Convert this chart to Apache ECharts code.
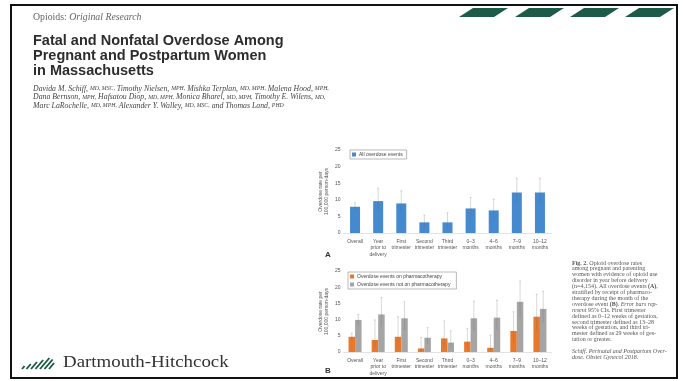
<!DOCTYPE html>
<html>
<head>
<meta charset="utf-8">
<script src="https://cdn.jsdelivr.net/npm/echarts@6/dist/echarts.min.js"></script>
<style>
  html, body { margin: 0; padding: 0; background: #fff; }
  #c { width: 683px; height: 381px; }
</style>
</head>
<body>
<div id="c"></div>
<script>
// Overdose rates per 100,000 person-days, by period
const categories = ['Overall', 'Year\nprior to\ndelivery', 'First\ntrimester', 'Second\ntrimester',
  'Third\ntrimester', '0–3\nmonths', '4–6\nmonths', '7–9\nmonths', '10–12\nmonths'];
const yTicks = [0, 5, 10, 15, 20, 25];

// Panel A: all overdose events (rate with 95% CI)
const allRate = [7.9, 9.6, 8.9, 3.2, 3.2, 7.4, 6.8, 12.2, 12.2];
const allLow  = [6.8, 6.6, 6.0, 1.7, 1.5, 4.9, 4.4, 8.9, 8.9];
const allHigh = [9.1, 13.5, 12.7, 5.4, 6.1, 10.7, 10.2, 16.5, 16.5];

// Panel B: on / not on pharmacotherapy (rate with 95% CI)
const onRate  = [4.7, 3.7, 4.7, 1.1, 4.2, 3.2, 1.3, 6.5, 10.9];
const onLow   = [3.8, 1.2, 1.8, 0.2, 1.6, 1.3, 0.3, 3.2, 6.4];
const onHigh  = [5.8, 9.9, 10.9, 4.5, 9.6, 7.3, 5.2, 12.4, 17.8];
const offRate = [9.9, 11.6, 10.4, 4.4, 2.9, 10.4, 10.6, 15.5, 13.3];
const offLow  = [8.3, 7.9, 6.8, 2.4, 1.2, 6.6, 6.8, 10.7, 9.1];
const offHigh = [11.6, 16.8, 15.5, 7.5, 6.5, 15.7, 16.0, 21.9, 18.8];

const BLUE = '#4589cf', ORANGE = '#e8782c', GRAY = '#a5a5a5', GREEN = '#1d5a48';
const SANS = 'Liberation Sans, Arial, sans-serif';
const SERIF = 'Liberation Serif, Times New Roman, serif';

function errorSeries(low, high, axis, offset) {
  return {
    type: 'custom', xAxisIndex: axis, yAxisIndex: axis, silent: true, z: 5,
    data: low.map((l, i) => [i, l, high[i]]),
    encode: { x: 0, y: [1, 2] },
    renderItem(params, api) {
      const lo = api.coord([api.value(0), api.value(1)]);
      const hi = api.coord([api.value(0), api.value(2)]);
      const x = lo[0] + offset;
      const st = { stroke: 'rgba(105,105,105,0.38)', lineWidth: 0.7 };
      return { type: 'group', children: [
        { type: 'line', shape: { x1: x, y1: lo[1], x2: x, y2: hi[1] }, style: st },
        { type: 'line', shape: { x1: x - 1, y1: hi[1], x2: x + 1, y2: hi[1] }, style: st }
      ] };
    }
  };
}

function xAxisFor(gridIndex) {
  return {
    type: 'category', gridIndex, data: categories,
    axisLine: { lineStyle: { color: '#cfcfcf', width: 0.6 } },
    axisTick: { show: false },
    axisLabel: { interval: 0, fontSize: 5, lineHeight: 6.6, color: '#555', margin: 5, fontFamily: SANS }
  };
}
function yAxisFor(gridIndex) {
  return {
    type: 'value', gridIndex, min: yTicks[0], max: yTicks[yTicks.length - 1], interval: yTicks[1] - yTicks[0],
    name: 'Overdose rate per\n100,000 person-days', nameLocation: 'middle', nameRotate: 90, nameGap: 14,
    nameTextStyle: { fontSize: 5, lineHeight: 5.6, color: '#555', fontFamily: SANS },
    axisLine: { show: false }, axisTick: { show: false }, splitLine: { show: false },
    axisLabel: { fontSize: 5, color: '#555', margin: 3, fontFamily: SANS }
  };
}

// Logo mark: parallel slanted strokes
function logoStripes() {
  const bottoms = [22, 26.5, 31, 35.5, 40, 44.5, 49];
  const heights = [3, 5, 7, 9, 11, 9.5, 6];
  return bottoms.map((x, i) => ({
    type: 'line',
    shape: { x1: x, y1: 369, x2: x + heights[i] * 0.85, y2: 369 - heights[i] },
    style: { stroke: GREEN, lineWidth: 1.9, lineCap: 'butt' }
  }));
}

function bannerBars() {
  const starts = [459, 515, 570, 625];
  return starts.map(x0 => ({
    type: 'polygon',
    shape: { points: [[x0, 17], [x0 + 14, 8], [x0 + 49, 8], [x0 + 35, 17]] },
    style: { fill: GREEN }
  }));
}

const authorRich = {
  n: { fontSize: 7.8, fontStyle: 'italic', fontFamily: SERIF, fill: '#444', lineHeight: 9, verticalAlign: 'bottom' },
  s: { fontSize: 5.8, fontStyle: 'italic', fontFamily: SERIF, fill: '#444', lineHeight: 9, verticalAlign: 'bottom', padding: [0, 0, 0.6, 0] }
};
const authorLines = [
  '{n|Davida M. Schiff,} {s|MD, MSC,} {n|Timothy Nielsen,} {s|MPH,} {n|Mishka Terplan,} {s|MD, MPH,} {n|Malena Hood,} {s|MPH,}',
  '{n|Dana Bernson,} {s|MPH,} {n|Hafsatou Diop,} {s|MD, MPH,} {n|Monica Bharel,} {s|MD, MPH,} {n|Timothy E. Wilens,} {s|MD,}',
  '{n|Marc LaRochelle,} {s|MD, MPH,} {n|Alexander Y. Walley,} {s|MD, MSC,} {n|and Thomas Land,} {s|PHD}'
];

const CAP = 6;
const captionLines = [
  '{b|Fig. 2.} Opioid overdose rates',
  'among pregnant and parenting',
  'women with evidence of opioid use',
  'disorder in year before delivery',
  '(n=4,154). All overdose events {b|(A)},',
  'stratified by receipt of pharmaco-',
  'therapy during the month of the',
  'overdose event {b|(B)}. {i|Error bars rep-}',
  '{i|resent} 95% CIs. First trimester',
  'defined as 0–12 weeks of gestation,',
  'second trimester defined as 13–28',
  'weeks of gestation, and third tri-',
  'mester defined as 29 weeks of ges-',
  'tation or greater.'
];
const captionRich = {
  b: { fontSize: CAP, fontWeight: 'bold', fontFamily: SERIF, fill: '#555' },
  i: { fontSize: CAP, fontStyle: 'italic', fontFamily: SERIF, fill: '#555' }
};

const graphics = [
  { type: 'rect', shape: { x: 11, y: 5, width: 666, height: 373 }, style: { fill: 'none', stroke: '#111', lineWidth: 2 } },
  ...bannerBars(),
  { type: 'text', x: 33, y: 17, style: {
      text: 'Opioids: {i|Original Research}', fontSize: 9.8, fontFamily: SERIF, fill: '#666', verticalAlign: 'middle',
      rich: { i: { fontSize: 9.8, fontStyle: 'italic', fontFamily: SERIF, fill: '#666' } } } },
  { type: 'text', x: 33, y: 33, style: {
      text: 'Fatal and Nonfatal Overdose Among\nPregnant and Postpartum Women\nin Massachusetts',
      fontSize: 14.5, lineHeight: 15, fontWeight: 'bold', fontFamily: SANS, fill: '#2d2d2d', verticalAlign: 'top' } },
  ...authorLines.map((t, i) => ({ type: 'text', x: 33, y: 88 + i * 8.5, style: {
      text: t, rich: authorRich, fontSize: 7.8, fontStyle: 'italic', fontFamily: SERIF, fill: '#444', verticalAlign: 'middle' } })),
  ...captionLines.map((t, i) => ({ type: 'text', x: 572, y: 263 + i * 5.9, style: {
      text: t, rich: captionRich, fontSize: CAP, fontFamily: SERIF, fill: '#555', verticalAlign: 'middle' } })),
  { type: 'text', x: 572, y: 351, style: { text: 'Schiff. Perinatal and Postpartum Over-', fontSize: CAP, fontStyle: 'italic', fontFamily: SERIF, fill: '#555', verticalAlign: 'middle' } },
  { type: 'text', x: 572, y: 357, style: { text: 'dose. Obstet Gynecol 2018.', fontSize: CAP, fontStyle: 'italic', fontFamily: SERIF, fill: '#555', verticalAlign: 'middle' } },
  { type: 'text', x: 325, y: 255, style: { text: 'A', fontSize: 8, fontWeight: 'bold', fontFamily: SANS, fill: '#333', verticalAlign: 'middle' } },
  { type: 'text', x: 325, y: 371, style: { text: 'B', fontSize: 8, fontWeight: 'bold', fontFamily: SANS, fill: '#333', verticalAlign: 'middle' } },
  ...logoStripes(),
  { type: 'text', x: 63, y: 363, scaleX: 1.18, originX: 0, originY: 0,
    style: { text: 'Dartmouth-Hitchcock', fontSize: 16, fontFamily: SERIF, fill: '#333', verticalAlign: 'middle' } }
];

const chart = echarts.init(document.getElementById('c'), null, { renderer: 'canvas' });
chart.setOption({
  animation: false,
  backgroundColor: '#fff',
  grid: [
    { left: 343.5, width: 208, top: 150, height: 83 },
    { left: 343.5, width: 208, top: 271, height: 81 }
  ],
  legend: [
    { data: ['All overdose events'], left: 350, top: 150, icon: 'rect', itemWidth: 4, itemHeight: 4,
      padding: [2, 4, 2, 2], borderColor: '#8a8a8a', borderWidth: 0.6,
      textStyle: { fontSize: 5, color: '#444', fontFamily: SANS, padding: [0, 0, 0, -2] } },
    { data: ['Overdose events on pharmacotherapy', 'Overdose events not on pharmacotherapy'], orient: 'vertical',
      left: 348, top: 272, icon: 'rect', itemWidth: 4, itemHeight: 4, itemGap: 3,
      padding: [2, 6, 2, 2], borderColor: '#8a8a8a', borderWidth: 0.6,
      textStyle: { fontSize: 5, color: '#444', fontFamily: SANS, padding: [0, 0, 0, -2] } }
  ],
  xAxis: [xAxisFor(0), xAxisFor(1)],
  yAxis: [yAxisFor(0), yAxisFor(1)],
  series: [
    { name: 'All overdose events', type: 'bar', xAxisIndex: 0, yAxisIndex: 0, data: allRate, barWidth: 10,
      itemStyle: { color: BLUE } },
    errorSeries(allLow, allHigh, 0, 0),
    { name: 'Overdose events on pharmacotherapy', type: 'bar', xAxisIndex: 1, yAxisIndex: 1, data: onRate,
      barWidth: 6.5, barGap: '0%', itemStyle: { color: ORANGE } },
    { name: 'Overdose events not on pharmacotherapy', type: 'bar', xAxisIndex: 1, yAxisIndex: 1, data: offRate,
      barWidth: 6.5, barGap: '0%', itemStyle: { color: GRAY } },
    errorSeries(onLow, onHigh, 1, -3.25),
    errorSeries(offLow, offHigh, 1, 3.25)
  ],
  graphic: { elements: graphics }
});
</script>
</body>
</html>
